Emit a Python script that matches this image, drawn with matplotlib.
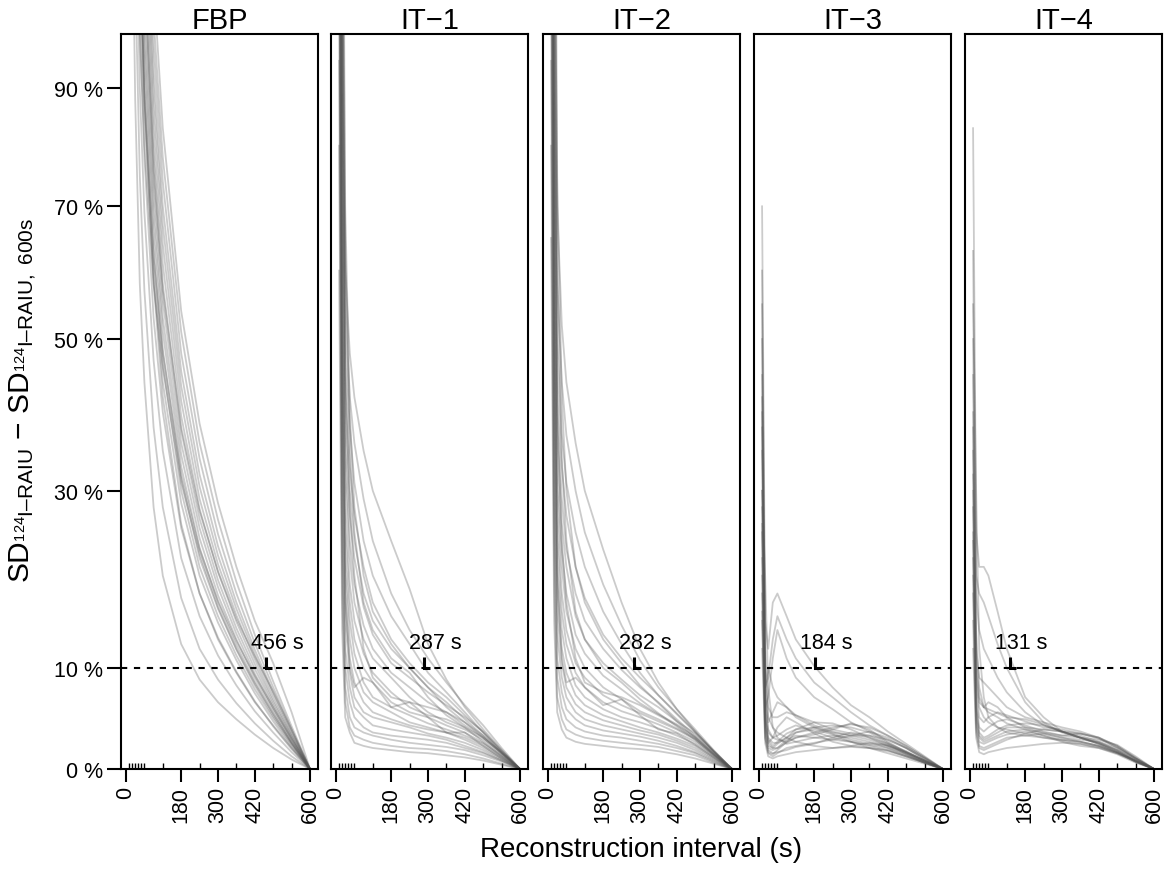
import numpy as np
import matplotlib
matplotlib.use("Agg")
import matplotlib.pyplot as plt

plt.rcParams['font.family'] = ['Liberation Sans', 'DejaVu Sans']
plt.rcParams['mathtext.fontset'] = 'custom'
plt.rcParams['mathtext.rm'] = 'Liberation Sans'
plt.rcParams['mathtext.it'] = 'Liberation Sans:italic'
plt.rcParams['mathtext.bf'] = 'Liberation Sans:bold'

# reconstruction intervals (s)
t = [10, 20, 30, 45, 60, 90, 120, 180, 240, 300, 360, 420, 480, 540, 600]

# SD difference (%) per patient, one row per curve
fbp = [
    [300, 130, 88, 58, 44, 28, 20, 12.5, 8.8, 6.5, 4.8, 3.3, 2.0, 0.9, 0],
    [380, 170, 112, 75, 57, 38, 28, 17.5, 12, 8.8, 6.4, 4.4, 2.7, 1.2, 0],
    [450, 205, 135, 90, 69, 47, 35, 22, 15.5, 11.3, 8.2, 5.6, 3.5, 1.6, 0],
    [500, 230, 152, 102, 78, 53, 40, 25.5, 18, 13.2, 9.6, 6.6, 4.1, 1.9, 0],
    [540, 250, 167, 113, 86, 59, 44, 28.5, 20, 14.8, 10.8, 7.4, 4.6, 2.1, 0],
    [560, 262, 175, 118, 90, 62, 46.5, 30, 21, 15.5, 11.3, 7.8, 4.9, 2.3, 0],
    [580, 272, 182, 123, 94, 65, 48.5, 31.5, 22, 16.3, 11.9, 8.2, 5.1, 2.4, 0],
    [600, 285, 190, 128, 98, 68, 51, 33, 23.2, 17, 12.4, 8.6, 5.4, 2.5, 0],
    [620, 295, 198, 134, 102, 71, 53, 34.5, 24.3, 17.8, 13, 9.0, 5.7, 2.6, 0],
    [650, 310, 208, 140, 107, 74, 55.5, 36, 25.5, 18.7, 13.6, 9.4, 5.9, 2.8, 0],
    [680, 325, 218, 147, 112, 78, 58, 37.5, 26.6, 19.5, 14.2, 9.9, 6.2, 2.9, 0],
    [700, 340, 228, 154, 117, 81, 61, 39.5, 27.8, 20.4, 14.9, 10.4, 6.5, 3.1, 0],
    [730, 355, 238, 160, 122, 85, 64, 41.5, 29, 21.3, 15.6, 10.9, 6.8, 3.2, 0],
    [760, 370, 248, 167, 127, 89, 67, 43.5, 30.5, 22.3, 16.3, 11.4, 7.2, 3.4, 0],
    [780, 385, 258, 174, 133, 93, 70, 45.5, 32, 23.4, 17, 11.9, 7.5, 3.6, 0],
    [800, 400, 270, 182, 140, 98, 74, 48, 34, 24.8, 18, 12.6, 8.0, 3.8, 0],
    [820, 420, 285, 192, 148, 103, 78, 51, 36, 26.5, 19.3, 13.5, 8.6, 4.1, 0],
    [850, 450, 300, 205, 158, 110, 83, 54, 38.5, 28.5, 21, 15, 10.5, 5.5, 0],
    [700, 300, 190, 120, 88, 58, 42, 26, 18, 13, 9.5, 6.5, 4.2, 2.0, 0],
    [420, 200, 140, 100, 80, 58, 46, 31, 22.5, 16.5, 12, 8.4, 5.3, 2.5, 0],
    [760, 360, 235, 150, 112, 76, 57, 38, 27.5, 20.5, 15.2, 11.2, 7.6, 3.8, 0],
    [520, 245, 165, 112, 88, 62, 48, 32, 23, 17.2, 12.8, 9.2, 6.0, 2.9, 0],
]

it1 = [
    [400, 120, 60, 48, 42, 35, 30, 24, 18.5, 12.5, 8.8, 6, 3.8, 1.8, 0],
    [350, 110, 55, 42, 36, 29, 24, 18, 14, 11, 8.5, 6.2, 4.2, 2.0, 0],
    [320, 100, 50, 38, 31, 24, 20, 15.5, 12.5, 9.5, 7.5, 5.5, 3.5, 1.6, 0],
    [300, 95, 46, 33, 27, 21, 17, 13, 10.5, 8.5, 7, 5.2, 3.5, 1.7, 0],
    [280, 90, 42, 30, 24, 18, 15, 12, 10, 8, 6, 4.5, 3.0, 1.5, 0],
    [260, 80, 38, 27, 22, 16.5, 13.5, 10.5, 9, 7.5, 6.2, 5, 3.6, 1.8, 0],
    [240, 75, 35, 24, 19, 14.5, 12, 9.5, 8, 6.5, 5.5, 4.2, 3.0, 1.5, 0],
    [220, 70, 32, 22, 17, 13, 11, 9, 7, 5.5, 4.5, 3.8, 2.8, 1.4, 0],
    [200, 60, 28, 19, 15, 11.5, 9.5, 7.5, 6, 5.2, 4.8, 4, 3, 1.6, 0],
    [180, 55, 25, 17, 13, 10, 8.5, 6.5, 5.5, 5, 4.2, 3.5, 2.5, 1.3, 0],
    [160, 50, 22, 15, 11.5, 8.5, 7, 6, 5.2, 4.4, 3.8, 3.2, 2.4, 1.2, 0],
    [150, 45, 20, 13, 10, 7.5, 6.5, 5.5, 4.5, 4, 3.5, 3, 2.2, 1.1, 0],
    [140, 40, 17, 11, 8.5, 6.5, 5.5, 4.8, 4.2, 3.8, 3.5, 2.8, 2, 1.0, 0],
    [130, 35, 15, 9.5, 7, 5.5, 5, 4.5, 4, 3.4, 3, 2.5, 1.8, 0.9, 0],
    [120, 30, 12, 8, 6, 5, 4.2, 3.8, 3.5, 3.2, 2.8, 2.2, 1.6, 0.8, 0],
    [110, 26, 10, 6.5, 5, 4, 3.5, 3.2, 3, 2.8, 2.5, 2, 1.5, 0.8, 0],
    [95, 22, 8, 5, 4, 3.5, 3.2, 2.8, 2.5, 2.3, 2.1, 1.8, 1.3, 0.7, 0],
    [80, 18, 6.5, 4, 3.2, 2.8, 2.5, 2.2, 2, 1.9, 1.7, 1.4, 1.0, 0.5, 0],
    [60, 14, 5, 3.5, 2.5, 2.2, 2, 1.8, 1.6, 1.5, 1.3, 1.1, 0.8, 0.4, 0],
    [500, 180, 70, 40, 28, 20, 16, 12.5, 10, 8, 6.5, 4.8, 3.2, 1.5, 0],
    [450, 150, 65, 35, 25, 17, 14, 11, 9.5, 7, 5.2, 4, 2.6, 1.2, 0],
    [380, 130, 45, 28, 20, 12, 9, 7, 6.5, 6, 5.5, 4.5, 3.2, 1.6, 0],
    [200, 50, 18, 10, 8, 9, 8.5, 6, 6.5, 5, 3.5, 3.5, 2.2, 1.0, 0],
]

it2 = [
    [450, 140, 70, 52, 44, 36, 30, 23, 17, 12, 8.5, 5.8, 3.6, 1.7, 0],
    [400, 120, 58, 44, 37, 30, 25, 19, 14.5, 10.8, 8, 5.8, 3.8, 1.8, 0],
    [350, 105, 50, 37, 31, 25, 21, 16, 12.5, 9.5, 7.2, 5.3, 3.5, 1.7, 0],
    [320, 95, 45, 33, 27, 21, 17.5, 13.5, 11, 9, 7.2, 5.4, 3.6, 1.7, 0],
    [300, 88, 41, 29, 23, 18, 15, 12, 9.8, 8, 6.5, 4.8, 3.2, 1.6, 0],
    [270, 80, 37, 26, 21, 15.5, 13, 10.5, 8.8, 7.2, 6, 4.6, 3.4, 1.7, 0],
    [250, 72, 33, 23, 18, 13.5, 11.5, 9.2, 7.8, 6.4, 5.3, 4.3, 3.1, 1.5, 0],
    [230, 66, 30, 21, 16, 12, 10, 8, 6.8, 5.6, 4.8, 3.9, 2.9, 1.4, 0],
    [210, 60, 27, 18, 14, 10.5, 9, 7.2, 6.2, 5.4, 4.6, 3.8, 2.8, 1.4, 0],
    [190, 54, 24, 16, 12.5, 9.5, 8, 6.5, 5.6, 5, 4.3, 3.5, 2.6, 1.3, 0],
    [170, 48, 21, 14, 11, 8.2, 7, 5.8, 5, 4.5, 3.9, 3.2, 2.4, 1.2, 0],
    [155, 43, 18.5, 12, 9.5, 7.2, 6.2, 5.2, 4.6, 4, 3.5, 2.9, 2.2, 1.1, 0],
    [140, 38, 16, 10.5, 8, 6.3, 5.5, 4.7, 4.2, 3.7, 3.3, 2.7, 2, 1.0, 0],
    [125, 33, 13.5, 9, 7, 5.5, 4.8, 4.2, 3.8, 3.4, 3, 2.5, 1.8, 0.9, 0],
    [110, 28, 11, 7.5, 5.8, 4.8, 4.2, 3.7, 3.4, 3.1, 2.7, 2.2, 1.6, 0.8, 0],
    [95, 24, 9, 6, 4.8, 4, 3.6, 3.2, 3, 2.7, 2.4, 2, 1.5, 0.7, 0],
    [80, 19, 7, 4.8, 3.8, 3.3, 3, 2.7, 2.5, 2.3, 2.1, 1.7, 1.3, 0.6, 0],
    [65, 15, 5.5, 3.8, 3, 2.6, 2.4, 2.2, 2, 1.9, 1.7, 1.4, 1, 0.5, 0],
    [550, 200, 75, 42, 30, 21, 17, 13, 10.5, 8.2, 6.4, 4.6, 3, 1.4, 0],
    [480, 160, 62, 34, 24, 16, 13, 10, 8.5, 6.8, 5.4, 4.1, 2.8, 1.3, 0],
    [360, 110, 40, 24, 17, 11, 8.5, 7.5, 7, 6.2, 5.2, 4.2, 3, 1.5, 0],
    [220, 55, 20, 11, 8.5, 9, 8, 6.2, 6.8, 5.2, 3.8, 3.4, 2.3, 1.1, 0],
]

it3 = [
    [70, 15, 12, 17, 18, 15.5, 13, 10.2, 8, 6.2, 5, 3.6, 2.4, 1.2, 0],
    [40, 8, 9, 13, 15.5, 13, 11, 8.5, 7, 5.5, 4.2, 3.2, 2.2, 1.1, 0],
    [30, 6, 7, 11, 14, 11, 9, 7, 5.8, 4.5, 3.6, 2.8, 2, 1, 0],
    [55, 10, 5, 4, 3.5, 3, 3.5, 4, 4.2, 4, 3.5, 2.5, 1.6, 0.8, 0],
    [35, 6, 3, 2.5, 2.5, 3, 3.8, 4.5, 4.4, 3.8, 3, 2.2, 1.5, 0.7, 0],
    [25, 5, 2.5, 2, 2, 2.5, 3, 3.3, 3.8, 4.4, 3.8, 2.6, 1.6, 0.8, 0],
    [20, 4, 2, 1.8, 2, 2.8, 3.2, 3, 2.8, 3.2, 3.6, 3, 2, 0.9, 0],
    [45, 7, 3.5, 3, 3.2, 3.8, 4.2, 3.6, 3, 2.6, 2.3, 2, 1.4, 0.7, 0],
    [15, 3, 1.5, 1.2, 1.5, 2, 2.2, 2.5, 2.8, 2.6, 2.2, 1.8, 1.2, 0.6, 0],
    [60, 12, 6, 5, 5, 5.5, 5.2, 4.5, 3.8, 3.4, 3, 2.4, 1.7, 0.8, 0],
    [28, 5, 2.8, 2.2, 2.6, 3.4, 3.8, 4, 3.4, 2.8, 2.4, 2.2, 1.6, 0.8, 0],
    [18, 3.5, 1.8, 1.5, 1.6, 1.8, 2.1, 2.4, 3, 3.5, 3.2, 2.4, 1.4, 0.6, 0],
    [50, 9, 4.5, 5.5, 6.5, 6, 5, 4, 3.5, 3.2, 2.8, 2.2, 1.5, 0.7, 0],
    [22, 4.2, 2.2, 2, 2.4, 3, 2.6, 2.2, 2, 2.2, 2.5, 2.3, 1.6, 0.8, 0],
    [38, 7, 3.8, 3, 2.8, 2.6, 3, 3.5, 4, 4.3, 4, 3.2, 2.2, 1.1, 0],
    [12, 2.5, 1.2, 1, 1.2, 1.4, 1.6, 1.8, 2, 2.1, 2, 1.7, 1.2, 0.6, 0],
    [30, 20, 8, 4, 3, 2.4, 2.6, 3, 3.2, 3, 2.6, 2, 1.3, 0.6, 0],
    [42, 8, 10, 8, 7, 6, 5.2, 4.2, 3.6, 3.2, 3.2, 2.8, 2, 1, 0],
    [26, 5, 2.5, 3, 4, 5, 4.5, 3.4, 2.6, 2.2, 2, 1.8, 1.2, 0.6, 0],
    [16, 3, 1.6, 1.4, 1.8, 2.6, 3.5, 3.8, 3.3, 2.6, 2, 1.5, 1, 0.5, 0],
]

it4 = [
    [83, 25, 21, 21, 20, 16, 12, 7, 5, 3.6, 3, 2.5, 1.7, 0.7, 0],
    [63, 20, 18, 17, 15.5, 12.5, 10, 6.5, 4.5, 3.5, 3, 2.5, 1.8, 0.8, 0],
    [45, 18, 14, 12, 11, 9, 7.5, 5.5, 4.2, 3.6, 3.2, 2.6, 1.8, 0.8, 0],
    [35, 12, 9, 8.5, 8, 7, 6, 5, 4.5, 4, 3.6, 3, 2, 1, 0],
    [30, 8, 5, 4.5, 5, 5.5, 5.2, 4.6, 4, 3.8, 3.4, 3, 2.2, 1, 0],
    [25, 6, 3.5, 3, 3.2, 3.8, 4.2, 4.4, 4.2, 3.6, 3, 2.4, 1.6, 0.7, 0],
    [22, 5, 3, 2.6, 2.8, 3.2, 3.6, 3.8, 3.5, 3.2, 3.4, 3, 2.2, 1.1, 0],
    [40, 10, 6.5, 6, 6.5, 6, 5, 4, 3.4, 3, 2.8, 2.6, 2, 1, 0],
    [18, 4, 2.2, 2, 2.2, 2.6, 3, 3.2, 3.4, 3, 2.6, 2.2, 1.6, 0.8, 0],
    [28, 7, 4, 3.6, 4, 4.6, 4.8, 4.2, 3.6, 3.2, 3, 2.8, 2.3, 1.2, 0],
    [15, 3.5, 2, 1.8, 2, 2.4, 2.8, 3.4, 3.8, 3.6, 3, 2.4, 1.6, 0.7, 0],
    [50, 14, 8, 6, 5.5, 5, 4.4, 3.8, 3.2, 2.8, 2.6, 2.2, 1.6, 0.8, 0],
    [20, 4.5, 2.6, 2.4, 2.6, 3, 3.3, 3.6, 3.2, 2.6, 2.2, 2, 1.5, 0.8, 0],
    [32, 9, 6, 5, 4.5, 4, 3.8, 3.4, 3, 2.7, 2.4, 2, 1.4, 0.6, 0],
    [12, 3, 1.6, 1.4, 1.6, 1.8, 2, 2.2, 2.4, 2.5, 2.4, 2.1, 1.5, 0.7, 0],
    [38, 11, 7, 6, 5.8, 5.4, 5, 4.8, 4.3, 3.6, 3, 2.4, 1.8, 0.9, 0],
    [24, 6, 3.2, 2.8, 3, 3.5, 4, 4, 3.8, 3.6, 3.4, 2.9, 2.1, 1, 0],
    [55, 30, 12, 7, 5, 4, 3.5, 3.2, 3, 2.8, 2.6, 2.2, 1.5, 0.7, 0],
]

panels = ['FBP', 'IT\u22121', 'IT\u22122', 'IT\u22123', 'IT\u22124']
curves = [fbp, it1, it2, it3, it4]
limit_time = [456, 287, 282, 184, 131]
threshold = 10

yticks = [0, 10, 30, 50, 70, 90]
ytick_labels = ['0 %', '10 %', '30 %', '50 %', '70 %', '90 %']
xticks = [0, 180, 300, 420, 600]
xminor = [10, 20, 30, 40, 50, 60, 120, 240, 360, 480, 540]


def fwd(y):
    return np.log1p(np.asarray(y, dtype=float) / 100.0)


def inv(y):
    return np.expm1(np.asarray(y, dtype=float)) * 100.0


W, H = 1172, 870
fig = plt.figure(figsize=(W / 100, H / 100), dpi=100)

lefts = [121, 331, 543, 754, 965]
pw = 197
bottom_px = 100
ph = 735

for k, name in enumerate(panels):
    ax = fig.add_axes([lefts[k] / W, bottom_px / H, pw / W, ph / H])
    ax.set_yscale('function', functions=(fwd, inv))
    for c in curves[k]:
        ax.plot(t, c, color='#555555', alpha=0.3, lw=1.3)
    ax.axhline(threshold, color='black', lw=1.5, dashes=(3, 3.2))
    v = limit_time[k]
    ax.plot([v, v, v + 20], [11.1, threshold, threshold], color='black',
            lw=2.2, solid_capstyle='butt', solid_joinstyle='miter')
    ax.text(v + 36, 12.1, f'{v} s', ha='center', va='baseline', fontsize=15.5)

    ax.set_xlim(-16.3, 626.1)
    ax.set_ylim(0, 100)
    ax.set_xticks(xticks)
    ax.set_xticklabels([str(x) for x in xticks], rotation=90, fontsize=15.5)
    ax.set_xticks(xminor, minor=True)
    ax.tick_params(axis='x', which='major', direction='out', length=9,
                   width=1.5, pad=3)
    ax.tick_params(axis='x', which='minor', direction='in', length=4,
                   width=1)
    ax.set_yticks(yticks)
    ax.yaxis.set_minor_locator(plt.NullLocator())
    if k == 0:
        ax.set_yticklabels(ytick_labels, fontsize=15.5)
        ax.tick_params(axis='y', direction='out', length=10, width=1.5, pad=3)
    else:
        ax.tick_params(axis='y', left=False, labelleft=False)
    for s in ax.spines.values():
        s.set_linewidth(1.5)
    ax.set_title(name, fontsize=21, pad=3)

fig.text(641.5 / W, 1 - 850 / H, 'Reconstruction interval (s)',
         ha='center', va='center', fontsize=20)
ylab = (r'$\mathrm{SD}_{{}^{124}\mathrm{I–RAIU}}$'
        ' \u2212 '
        r'$\mathrm{SD}_{{}^{124}\mathrm{I–RAIU,\ 600s}}$')
fig.text(24 / W, 1 - 400 / H, ylab, rotation=90, ha='center', va='center',
         fontsize=21.5)

fig.savefig('out.png', dpi=100)
